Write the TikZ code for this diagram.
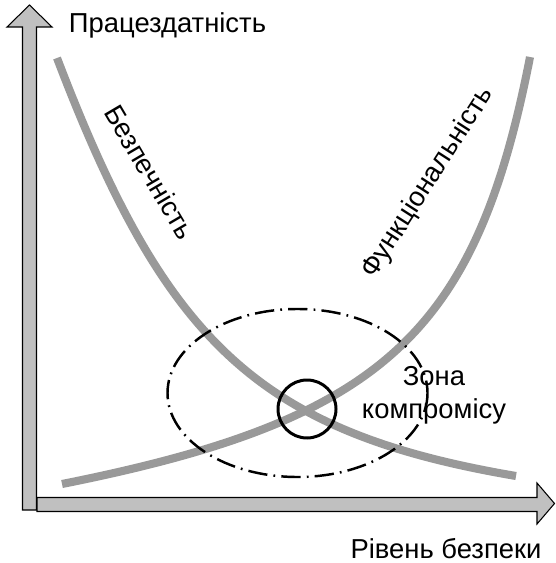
\documentclass[tikz,border=0pt]{standalone}
\usepackage{fontspec}
\setmainfont{Liberation Sans}

\begin{document}
\begin{tikzpicture}[x=0.02cm,y=-0.02cm,font=\fontsize{15.6}{18.8}\selectfont,
    axisArrow/.style={fill=cAxis,draw=black,line width=0.6pt,line join=miter},
    curveLine/.style={cCurve,line width=4.6pt}]
  \definecolor{cAxis}{RGB}{192,192,192}
  \definecolor{cCurve}{RGB}{153,153,153}

  \useasboundingbox (0,0) rectangle (555,563);

  % axes
  \draw[axisArrow] (22.5,510) -- (22.5,27) -- (7,27) -- (29.5,5) -- (52,27)
    -- (36.5,27) -- (36.5,510) -- cycle;
  \draw[axisArrow] (37,497.5) -- (537,497.5) -- (537,483) -- (554.5,503.5)
    -- (537,524) -- (537,511.5) -- (37,511.5) -- cycle;
  \node[anchor=base] (yLbl) at (167.5,33) {Працездатність};
  \node[anchor=base] (xLbl) at (446,558) {Рівень безпеки};

  % curves
  \draw[curveLine] (57,58) .. controls (165,341) and (257,432) .. (516,476);
  \draw[curveLine] (62,484) .. controls (383,420) and (476,334) .. (530,57);
  \node[rotate=-59.5] (safeLbl) at (150,172) {Безпечність};
  \node[rotate=57.3] (funcLbl) at (428,183) {Функціональність};

  % trade-off zone
  \draw[line width=1.4pt,dash pattern=on 11pt off 3.5pt on 1pt off 3.5pt]
    (297.5,393) ellipse [x radius=130,y radius=84];
  \draw[line width=1.7pt] (307,409) circle [radius=29];
  \node[align=center] (zoneLbl) at (434,395) {Зона\\компромісу};
\end{tikzpicture}
\end{document}
